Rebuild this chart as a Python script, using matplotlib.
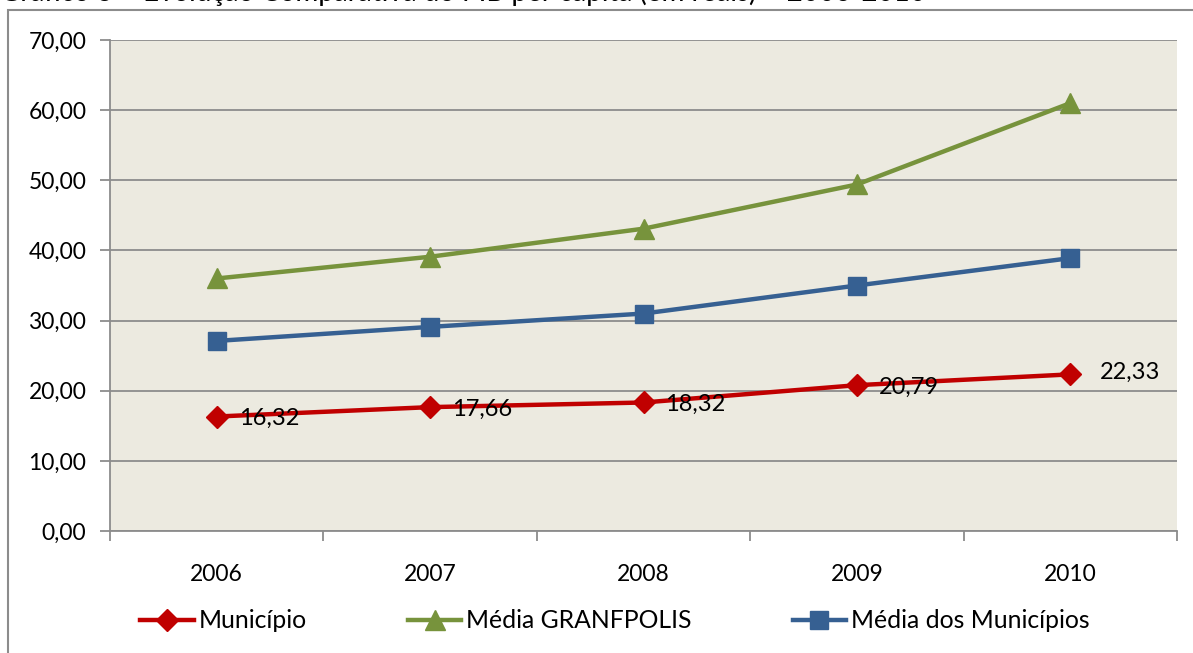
import matplotlib
matplotlib.use("Agg")
import matplotlib.pyplot as plt
from matplotlib.patches import Rectangle
from matplotlib.ticker import FixedLocator, FuncFormatter

plt.rcParams['font.family'] = ['Lato', 'DejaVu Sans']

years = ["2006", "2007", "2008", "2009", "2010"]
municipio = [16.32, 17.66, 18.32, 20.79, 22.33]
granfpolis = [36.0, 39.1, 43.1, 49.4, 61.0]
media_municipios = [27.1, 29.1, 31.0, 35.0, 38.9]
labels = ["Município", "Média GRANFPOLIS", "Média dos Municípios"]
title = "Gráfico 3 – Evolução Comparativa do PIB per capita (em reais) – 2006-2010"

W, H = 1193, 653
fig = plt.figure(figsize=(W/100, H/100), dpi=100)
fig.patch.set_facecolor("white")

# outer chart frame (partially cut)
fig.patches.append(Rectangle((8/W, -0.05), 1.2, 1 - 10/H + 0.05, transform=fig.transFigure,
                             fill=False, edgecolor="#8c8c8c", linewidth=1.5))
fig.text(0.0, 1 - 1.5/H, title, ha="left", va="baseline", fontsize=20, color="black")

ax = fig.add_axes([110/W, 1 - 531/H, (1177-110)/W, (531-40)/H])
ax.set_facecolor("#ECEAE0")
x = list(range(len(years)))

c_red, c_green, c_blue = "#C00000", "#77933C", "#366092"
ax.plot(x, municipio, color=c_red, lw=3.2, marker="D", ms=11, label=labels[0], zorder=5)
ax.plot(x, granfpolis, color=c_green, lw=3.2, marker="^", ms=14, label=labels[1], zorder=4)
ax.plot(x, media_municipios, color=c_blue, lw=3.2, marker="s", ms=13, label=labels[2], zorder=4)

for i, v in enumerate(municipio):
    dx = 22 if i < 4 else 30
    ax.annotate(f"{v:.2f}".replace(".", ","), (i, v), xytext=(dx, -2 if i < 4 else 2),
                textcoords="offset pixels", ha="left", va="center", fontsize=17, zorder=6)

ax.set_xlim(-0.5, 4.5)
ax.set_ylim(0, 70)
ax.yaxis.set_major_locator(FixedLocator([0, 10, 20, 30, 40, 50, 60, 70]))
ax.yaxis.set_major_formatter(FuncFormatter(lambda v, p: f"{v:.2f}".replace(".", ",")))
ax.grid(axis="y", color="#8c8c8c", lw=1.3)
ax.set_axisbelow(True)
ax.set_xticks(x)
ax.set_xticklabels(years)
ax.set_xticks([-0.5, 0.5, 1.5, 2.5, 3.5, 4.5], minor=True)
ax.tick_params(axis="x", which="major", length=0, pad=24, labelsize=16.5)
ax.tick_params(axis="x", which="minor", length=7, color="#8c8c8c", width=1.3)
ax.tick_params(axis="y", length=7, color="#8c8c8c", width=1.3, pad=10, labelsize=16.5)
for s in ["top", "right"]:
    ax.spines[s].set_visible(False)
for s in ["left", "bottom"]:
    ax.spines[s].set_color("#8c8c8c")
    ax.spines[s].set_linewidth(1.3)

leg = fig.legend(loc="center", bbox_to_anchor=(615/W, 1 - 621/H), ncol=3, frameon=False,
                 fontsize=17.8, handlelength=2.15, columnspacing=4.1, handletextpad=0.2)

fig.savefig("out.png", dpi=100)
